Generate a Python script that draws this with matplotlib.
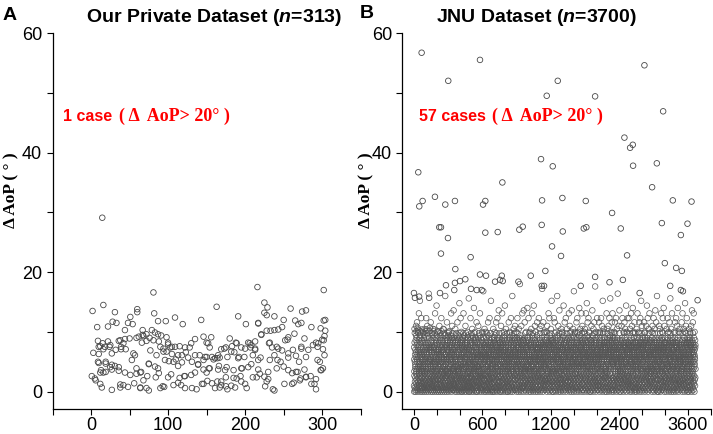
import numpy as np
import matplotlib
matplotlib.use('Agg')
import matplotlib.pyplot as plt
from matplotlib.ticker import FixedLocator, FixedFormatter, MultipleLocator

plt.rcParams['font.family'] = ['Liberation Sans', 'DejaVu Sans']
plt.rcParams['mathtext.fontset'] = 'custom'
plt.rcParams['mathtext.it'] = 'Liberation Sans:bold:italic'
plt.rcParams['mathtext.rm'] = 'Liberation Sans:bold'

# ---- panel A: our private dataset (sample index, delta AoP in degrees)
priv_x = [81, 16, 2, 31, 60, 60, 51, 82, 109, 143, 28, 33, 48, 54, 87, 97, 119, 8, 22, 44,
          67, 79, 83, 72, 91, 98, 135, 146, 9, 15, 22, 38, 44, 50, 62, 68, 76, 81, 12, 18,
          25, 32, 39, 45, 90, 94, 103, 109, 115, 122, 128, 3, 10, 27, 57, 77, 85, 98, 105, 118,
          126, 135, 141, 148, 9, 19, 31, 36, 53, 75, 75, 96, 107, 113, 131, 139, 146, 1, 5, 13,
          16, 25, 27, 44, 51, 59, 64, 73, 87, 88, 100, 122, 130, 135, 146, 150, 12, 38, 42, 48,
          56, 64, 72, 93, 107, 113, 122, 131, 137, 144, 27, 90, 95, 75, 14.6,
          216, 302, 163, 225, 229, 225, 228, 259, 274, 279, 191, 201, 217, 238, 250, 265, 273, 302, 304, 228,
          238, 248, 264, 286, 298, 304, 180, 188, 204, 213, 221, 231, 252, 256, 277, 292, 302, 303, 156, 150,
          154, 173, 182, 200, 207, 213, 235, 243, 262, 273, 294, 301, 150, 161, 167, 177, 191, 199, 210, 217,
          232, 242, 246, 256, 270, 279, 294, 159, 164, 154, 165, 176, 185, 195, 204, 217, 219, 241, 250, 261,
          268, 277, 298, 301, 157, 169, 175, 189, 195, 200, 210, 225, 230, 251, 263, 272, 279, 285, 292, 161,
          167, 175, 187, 202, 226, 236, 238, 261, 286, 292,
          10, 16, 24, 36, 42, 39, 59, 67, 87, 66, 72, 88, 100, 10, 19, 27, 55, 83, 94, 6,
          12, 19, 36, 59, 65, 68, 84, 14, 38, 64,
          100, 105, 113, 123, 130, 152, 169, 175, 183, 189, 195, 208, 157, 165, 186, 192, 101, 110, 118, 139,
          153, 166, 174, 196, 104, 115, 121, 151, 164, 185, 194, 117, 146, 169, 182, 177,
          269, 217, 243, 233, 221, 232, 241, 248, 255, 273, 288, 295, 300, 206, 213, 220, 238, 256, 266, 282,
          297, 303, 208, 230, 256, 266, 279, 299, 215, 228, 271, 290]
priv_y = [16.6, 14.5, 13.5, 13.3, 13.8, 13.3, 12.5, 13.1, 12.4, 12.0, 11.7, 11.5, 11.5, 11.3, 11.8, 11.8, 11.3, 10.8, 10.9, 10.3,
          10.3, 10.3, 9.9, 9.6, 9.4, 9.1, 8.8, 9.2, 8.5, 8.1, 8.4, 8.6, 8.8, 8.9, 9.2, 9.3, 9.0, 8.6, 7.6, 7.5,
          7.8, 7.0, 7.1, 7.1, 7.5, 7.2, 7.4, 7.5, 7.6, 7.4, 7.4, 6.5, 6.3, 6.4, 6.1, 6.9, 6.1, 6.7, 6.3, 6.1,
          5.7, 6.1, 6.1, 5.8, 5.0, 4.7, 4.3, 4.1, 5.3, 4.7, 4.6, 5.3, 5.0, 4.3, 5.0, 4.5, 5.3, 2.6, 2.2, 3.6,
          3.2, 4.1, 3.7, 3.2, 2.8, 3.9, 3.2, 2.6, 3.9, 3.1, 2.4, 2.6, 2.8, 3.2, 3.7, 3.2, 1.3, 1.2, 1.1, 0.8,
          1.4, 0.7, 0.6, 0.9, 1.1, 1.5, 0.6, 0.6, 0.4, 1.3, 0.3, 0.6, 0.8, 0.2, 29.1,
          17.5, 17.0, 14.2, 14.9, 14.1, 13.2, 12.8, 13.9, 13.4, 13.6, 12.6, 11.3, 11.5, 12.6, 12.0, 11.9, 11.5, 11.9, 12.0, 10.2,
          10.3, 10.8, 9.7, 10.8, 10.6, 10.2, 8.9, 8.2, 8.2, 8.4, 9.5, 8.1, 8.6, 9.1, 8.9, 8.2, 8.6, 9.3, 9.1, 8.2,
          7.4, 7.2, 6.7, 7.2, 7.4, 7.0, 7.4, 7.2, 7.0, 7.2, 7.5, 7.1, 5.8, 5.6, 5.7, 5.8, 5.6, 5.8, 6.1, 5.3,
          5.3, 5.3, 5.0, 5.7, 5.0, 5.8, 5.3, 5.4, 5.6, 3.9, 3.7, 4.1, 3.6, 3.9, 4.1, 3.7, 3.0, 3.9, 4.2, 3.1,
          3.3, 3.7, 3.6, 3.9, 1.4, 1.7, 2.4, 2.2, 1.7, 1.3, 2.4, 2.5, 2.1, 1.3, 1.5, 2.2, 2.5, 2.6, 2.1, 0.6,
          0.7, 0.9, 0.7, 0.6, 0.9, 0.4, 0.2, 1.3, 1.3, 0.4,
          7.5, 7.1, 7.5, 8.5, 8.1, 7.5, 9.0, 9.5, 9.6, 8.2, 8.5, 8.4, 8.2, 4.8, 5.0, 4.5, 6.4, 4.2, 6.7, 1.9,
          3.2, 3.3, 3.5, 3.0, 3.3, 1.9, 2.4, 0.7, 0.7, 0.6,
          7.9, 7.5, 6.1, 6.6, 8.1, 8.1, 7.1, 7.4, 7.6, 8.1, 7.4, 7.8, 5.8, 6.1, 6.6, 5.8, 5.1, 5.4, 4.9, 4.6,
          3.9, 4.3, 3.6, 3.9, 2.9, 2.3, 2.6, 1.8, 1.7, 2.3, 2.6, 1.1, 1.3, 1.1, 1.0, 0.4,
          11.3, 11.4, 10.4, 10.2, 9.6, 8.2, 7.5, 6.9, 8.7, 7.5, 7.8, 8.1, 8.7, 8.1, 7.2, 5.7, 6.1, 6.4, 6.0, 7.0,
          5.0, 6.1, 4.6, 3.3, 3.6, 3.3, 2.4, 3.6, 2.4, 1.7, 1.9, 1.3]

# ---- panel B: JNU dataset
jnu_n = 3700
# bulk of the cases, one character per case in index order; each character stands for one level
jnu_chars = '0123456789abcdefghijklmnopqrstABCDEFGHIJKLMNOPQR'
jnu_values = [0.0, 0.33, 0.67, 1.0, 1.33, 1.67, 2.0, 2.33, 2.67, 3.0,
              3.4, 3.8, 4.2, 4.6, 5.0, 5.4, 5.8, 6.2, 6.6, 7.0, 7.4, 7.8, 8.2, 8.6, 9.0, 9.4, 9.8, 10.1, 10.4, 10.7,
              10.0, 10.5, 11.0, 11.6, 12.3, 13.1, 13.6, 14.0, 14.4, 14.8, 15.2, 15.6, 16.0, 16.4, 16.8, 17.2, 17.6, 18.0]
jnu_band = (
    '3k0fa8Bm2qe5hc1j7db0ng4iCp9ar6lo2e8Dfb3mh1tj0ksAc5gq7ie2nF9bd4la3oj6hK8pc0eg1m5ri3kb7Edf2sa9nh4'
    '0gc7ja2m5be1Aqk8fd3o6ia0hn4Bcp2je9gm1ra7kd5f3bl0Eoi8sh6q2ae4Cjk1g9md7cb3p0he5Nli2fo8k6rb1dj4ft'
    '5ae9gk2Dc0jb7mf1hq4i3nl8ap6dk0c2Bgo5br9fe1m3kj7ia4sd0q8lh6Fce2o5gn1af9m3jd7Ibi0pe4l2ha6fr8Aj1'
    '2ib6ek0g4mc9fh1Cjo7d3la5qn8be0cp2i6hk4Efj1r9ag3lb7ne0ok5c8md2Bia6h1js4gf9q3ce0pk7hb5Ml2dn8fa'
    '7hd1la4o0gf8Dkj3bm6n2ei9ap5qc1f7jg0Alb3ro8dk6h4ma2cn9fi1j5pe3Fgb7d0kl6io2Ch8qf4am1bj9e5nh3Gd'
    '1ob4ha8k2jg6ce0mf9Bl3pi7an5d1gq4ek8cb0o2lh6Dfm9a3jc5nd1ki7p4hb0ag8Jl2qo6fj3c9me1Ebk5h7dg0An'
    '8fm2ck6j0hl4ao9gb1d7nq3Fie5c2kp8bh0jf6g4lm1od9Cc3ei7qb5k0gn2ja8f4mh6cl1Ao9ep3ki7d5ah0Lj2eb'
    '4ja0gd7n3fk9bh1Eme5l8oc2iq6a0dj4gp7Bb1mf3he9lo5c2ka8ni0Hg6bq4df1m7hl3Aco9e5kb2jn8i0fa6Dh3gc'
    '0dk5mf2i8hc1ga7Co4je9nb3q6cl0kh5ad8Fp2gm7ej1b4of9hk3d6ai0ln8Ag2jc5qb7h1dm4Ofo9k3ei6bg0l8Bh'
    '6eg3ib9k1ld5hf0Amc8o2jn7ga4q1ke6bh3d9fl0Dci5p8am2ho4j7ek1Edg6f3nb0ql9a5ic8Khm2k4gj7b1od0f'
    '9cl4fb1jh7d0Bmk3ea8gn5i2oc6Ahj0fd4pm9bk2le7gq1Dca5hi8n3jf0ke6Ebm2ga9od4lh1c7Gjf5ni3aq8kd0m'
    '2mh8ag5dk0ji3Ccf7bl1ne9hq4Fgo6ka2dm0jb8li5ec3Ahp7fg1nk4bd9Ioa6jh0ce2mf8Bkl5gi3ad7qn1hb4fe0'
    '5bf0ki3hm6ca9Dgj2el8dn1ob4Aqi7fh5jc0mk3Eag9ld6bp2hn8ce1Mfj4io0kb7ag5dm2Bhl9qe3cj6fo1ni8Cg'
    '1gi6dm9jc2hb4Afk0ol7ea3nf8Eqb5ik1gd6mh9cj0Bla4fo2ek7hn3Rdb8gi5pc1jm0af6Ckh9le2ob4dg7Fi3n'
    '8ld2jh5bn0fe7Gam3ic1kg9Dob6hl4qa2ej8nc5fk0Abd3mi7gh1jl9Hce6ko4bf2an8Edm5ig0hq3cj7lb1Afe6'
    '4ha9ef0mb6lk2Bcj8gd5ni3Fap1ho7eq4kc0jg6dm2Ibf9la5hi1oe3Cng8kb7fj0ad4Amh2gl6ec9pj5Dbi1kf8'
    '0fj7km3ac8hd1Egi5lb9oe2Bnh6qf0jk4ga3dl7mc1Cbi8he5fo2Pkn9aj6gd0bl4Dmf3hq7ce1ki5Ajg8nb2ld6'
    '6kc3gi8fe1nb5Alh9dm0jq7Cok4ba2hf6ie9gl3Fcm1jd8kn5Ebp0ah7lf4gq2dj6Bio9mc3ek1Khf5na8gb0jl7'
    '3ne5hm0bd9ka4Ejf2lg6ci8Dmq1ob3hj7ae0fk5Agn9dl2ib4pc6Mjh8ef1kg3oa7Cbm0ld5fi9hq2Gje6nk4ca1'
    '7dh0lf4ia6me2Bkc9gj3nb5Ahq8fo1jd6ke0cl4Ipg7bm9ha2ei5Dfn3kc8jo1gd6Elb0ma7hf4qi3Bck9nj2eg5'
    '2ib8ed1ko5jg3Fmh7ca0fl9Cnq4gb6ie1hk8Ajd2lo5mf0Gce7bn3ah9kp4dj6Bfg1mi8el0Ooc5kb2hg7qd3Afj9'
    '9gk4cj6ha2fm0Dbl8ei1nd3Eqo7kc5gh9jf2Abm6ld0ie4Hpa8fk1cn7gj3Bhm5ob9ed2kl6Fia0jq4dg8Cnh1mc'
    '4me1ib7dk3hf9Agj0cl5on8Bfq2ie6kh4ad7Fmg1jb9lc3Jek0nh5gp8Dca2fi6mo4Ebk1hd9Alj3gq7ce0ib5nf'
    '0ah6gl2fn8kd4Cie7mb1jc9Ghp3oa5fk0dg2Bil8he6nq4Dcm1kj7af3Qgb9lo5ei0Ahd2mn8fc6jk4Ebg1ih7dq3'
    '5jc9fh3bg1me7Dla0kd4io6Aqn2hc8gf5jb3Elk9md1ao7Cfe0hi4nb6Kgq2kl8dj5Bcm3fh1oe9Agi7lk0ja4mb'
    '8ib2kd7hj5ca0Fgf3nm9el1Bqo4dk6ih2ag8Cjb0mf5lc7Ehn1go3kd9Lpi4fe6Abj2hm8nc0Dgk5ql1ei7Fjd3o'
    '1fd7mb4je0hk6Agi2co8nl3Dqf9bj5ka1hg7Eme4ic0ld6Bfn8jo2gh3Nkc5ab9mf1Cdl4ie7hq0Gkj6bg2na8fc'
    '6lg0ae5ik8dm2Cbh9fj4oc1Ene7ga3jl6hb0Akd8mq2fi5Dco9gk1lh4Beb7nj3dm6Ifa0ke5Aqg8ci2jh9Emd4l'
    '3aj5hc8gm1fk7Eld4bi0ne6Bqh2jc9dg3ak5Fmo1el8hf0Cki4nb7gd2Hjq6mc9af3Alk5oh1ij8Dbe0gf4qm2kc'
    '9hm1kf6dc4jb0Bae7li2go5Fdn8kc3hb9fm1Ajq6gi4el0Ddo7ck2mh5Ejb8fa3nl1Kgi6bq9hd0Cmk4jf7ea2lo'
    '2ke8bj3ig6ml1Dhc5af9nq0Ago4eh7jd2lk6Cmb8fi1cg5Iha3on9dk7Efj0bm4lc2Bhq8gi6ae1Fkn3jd5mh9cb'
    '7ci4gn9fa2hd5Akj0mb6eo3Cfl8iq1kh7dc4Eja9gn2lb0Bmf6hq3ek8Gdi5oa1jc7Dlh4fm9kg2Mbe6nc0ai3jf'
    '0bg6dl1ho8ke4Cim2jf7ac9Bqn3ek0gb6hj5Fld1mi8oc4Aka7fh2nd9Eqj3ig5kc1Hbm6le0gd8Cjf2ah7mo4kb'
    '5fk3mi7ad0ge9Bhb1lc6nj2Eqd8fo4ak5ic9Amh3jl0gb7Dke6nf1hd8Lcq2mg4ia5Bfo0kj9le3Fch6dn1bg7jm'
    '8md0hc2bk5jf1Ajg6ei9oa4Dlq7cm3gf0bk8Emh2di6nl4Cjb1ka9fg5Hoe3ic7mj0Afb4hl8gd2Bnq6ke1cf5ia'
    '4dg9je5lh3ab8Dkf2mc0in7Fqb1hg6ek4dc9Bjl3am5of8Aih0gd7Jkn2fb6me4Cqh1lj9ad3Ebg7ck5mo0hf2nd'
    '1ja5ek8cm0ih6Bbg3fd9nl2Aoq5ja7gk1he6Cml4dc0fb8Gin3jk9ae2Dqh7mg5bl1Fki4oe8ch0Ajd6gf3nk7lb'
)
# higher cases read individually (index, delta AoP)
jnu_high_x = [101, 57, 70, 114, 276, 412, 451, 539, 868, 908, 938, 1162, 1670, 1684, 1745, 1824,
              1890, 1951, 2258, 2381, 2604, 2766, 2841, 2876, 2880, 3029, 3130, 3192, 3275, 3402, 3648,
              333, 355, 447, 355, 745, 938, 1101, 1385, 1430, 1679, 1815, 1933, 1956, 2232, 2266,
              2718, 2801, 3258, 3297, 3508, 3595, 3446, 3521, 544, 1727,
              0, 13, 68, 200, 342, 421, 539, 530, 605, 675, 750, 825, 890, 868, 947, 1066, 1132,
              1154, 1167, 1373, 1535, 1679, 1710, 2192, 2381, 2570, 2746, 2966, 3368, 3508, 3535, 3728]
jnu_high_y = [56.7, 36.7, 31.0, 31.9, 32.6, 31.3, 52.0, 31.9, 55.5, 31.3, 31.9, 35.0, 38.9, 32.0, 49.5, 37.7,
              52.0, 32.4, 31.9, 49.4, 29.9, 42.5, 40.8, 41.3, 37.8, 54.6, 34.2, 38.2, 46.9, 32.0, 31.8,
              27.5, 27.5, 25.7, 23.1, 22.5, 26.6, 26.7, 27.1, 27.6, 27.9, 24.3, 22.7, 26.8, 27.3, 27.5,
              27.3, 22.8, 28.2, 21.5, 26.2, 28.1, 20.7, 20.2, 20.5, 20.2,
              16.5, 15.7, 15.9, 15.7, 16.5, 17.8, 18.2, 17.0, 18.5, 18.8, 17.2, 17.0, 17.0, 19.6, 19.4, 18.4, 18.7,
              19.4, 18.5, 18.4, 19.4, 17.7, 17.7, 17.7, 19.2, 18.3, 18.7, 16.5, 17.7, 17.0, 16.8, 15.3]
jnu_ticks = [0, 900, 1800, 2700, 3600]
jnu_ticklabels = ['0', '600', '1200', '2400', '3600']

level_of = dict(zip(jnu_chars, jnu_values))
band_y = np.array([level_of[c] for c in jnu_band])
band_x = np.linspace(1, jnu_n, len(band_y))

fig = plt.figure(figsize=(7.13, 4.34), dpi=100)
W, H = 713.0, 434.0
axA = fig.add_axes([52.5 / W, 25 / H, 308.2 / W, 376 / H])
axB = fig.add_axes([402.3 / W, 25 / H, 308.4 / W, 376 / H])

mk = dict(s=16, facecolors='none', edgecolors='#484848', linewidths=0.6)
axA.scatter(priv_x, priv_y, **mk)
axB.scatter(band_x, band_y, s=16, facecolors='none', edgecolors='#555555', linewidths=0.5)
axB.scatter(jnu_high_x, jnu_high_y, **mk)

for ax in (axA, axB):
    ax.spines['top'].set_visible(False)
    ax.spines['right'].set_visible(False)
    for s in ('left', 'bottom'):
        ax.spines[s].set_linewidth(0.9)
    ax.set_ylim(-2.9, 60)
    ax.yaxis.set_major_locator(FixedLocator([0, 20, 40, 60]))
    ax.yaxis.set_minor_locator(FixedLocator([10, 30, 50]))
    ax.tick_params(which='both', direction='out', length=4, width=0.8, labelsize=13)
    ax.tick_params(axis='x', pad=2)

axA.set_xlim(-50, 350)
axA.xaxis.set_major_locator(FixedLocator([0, 100, 200, 300]))
axA.xaxis.set_minor_locator(MultipleLocator(50))

axB.set_xlim(-153, 3900)
axB.xaxis.set_major_locator(FixedLocator(jnu_ticks))
axB.xaxis.set_major_formatter(FixedFormatter(jnu_ticklabels))
axB.xaxis.set_minor_locator(MultipleLocator(300))

# titles and panel letters
fig.text(214.5 / W, 1 - 17 / H, 'Our Private Dataset ($n$=313)', ha='center', va='center',
         fontsize=14, fontweight='bold')
fig.text(536 / W, 1 - 17 / H, 'JNU Dataset ($n$=3700)', ha='center', va='center',
         fontsize=14, fontweight='bold')
fig.text(3 / W, 1 - 20 / H, 'A', ha='left', va='baseline', fontsize=14, fontweight='bold')
fig.text(360 / W, 1 - 18 / H, 'B', ha='left', va='baseline', fontsize=14, fontweight='bold')

for xl in (11, 366):
    fig.text(xl / W, 1 - 190 / H, 'Δ AoP ( ° )', rotation=90, ha='center', va='center',
             fontsize=12.5, fontweight='bold', family=['Liberation Serif', 'DejaVu Serif'])

# red annotations
for ax, xf, lab in ((axA, 0.034, '1 case'), (axB, 0.053, '57 cases')):
    t1 = ax.text(xf, 0.779, lab, transform=ax.transAxes, ha='left', va='center',
                 color='red', fontsize=11.5, fontweight='bold')
    ax.annotate('( Δ  AoP> 20° )', xy=(1, 0.5), xycoords=t1, xytext=(5, 0),
                textcoords='offset points', ha='left', va='center', color='red',
                fontsize=13, fontweight='bold', family=['Liberation Serif', 'DejaVu Serif'])

fig.savefig('out.png', dpi=100)
